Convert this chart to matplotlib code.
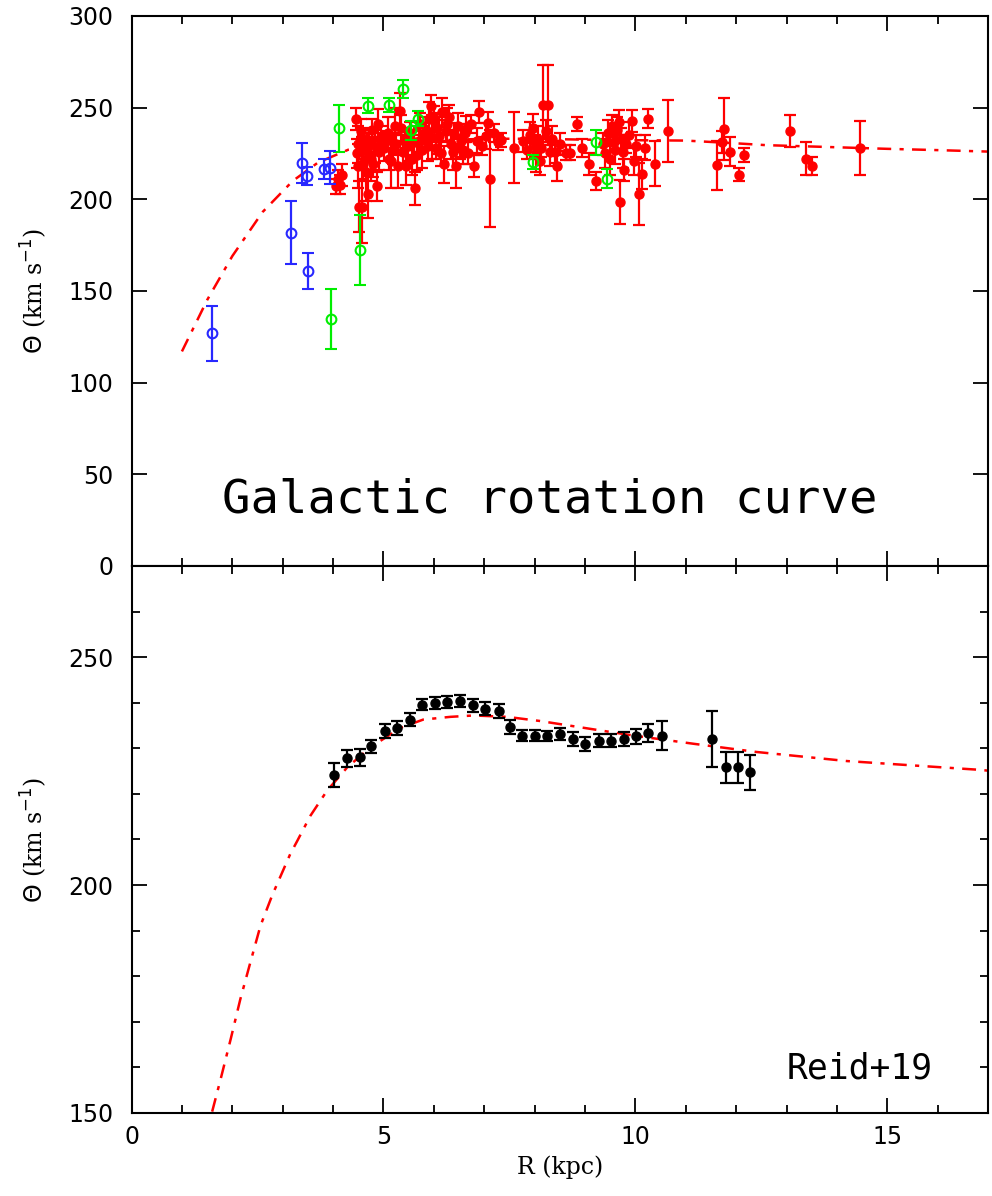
import matplotlib
matplotlib.use("Agg")
import matplotlib.pyplot as plt
from matplotlib.ticker import MultipleLocator

# ---- top panel: model curve ----
TOP_CURVE_R = [1.0, 1.5, 2.0, 2.6, 3.2, 3.7, 4.3, 5.0, 6.0, 7.0, 8.0, 9.0,
               10.0, 11.0, 12.0, 12.6, 13.7, 15.0, 16.0, 17.0]
TOP_CURVE_V = [117, 145, 169, 193, 210, 220, 227, 230, 232, 233, 233, 232.5,
               232.2, 232, 230.5, 229.5, 228.6, 227.5, 226.8, 226]

# ---- top panel: red (filled) ----
RED_R = [4.05, 4.10, 4.14, 4.18,
         4.45, 4.47, 4.49, 4.50, 4.52, 4.55, 4.57, 4.58, 4.60, 4.62, 4.65, 4.68,
         4.70, 4.72, 4.75, 4.78, 4.80, 4.83, 4.87, 4.89, 4.92, 4.95,
         5.02, 5.05, 5.09, 5.12, 5.15, 5.18, 5.22, 5.25, 5.28, 5.32, 5.35, 5.38,
         5.42, 5.45, 5.48,
         5.52, 5.56, 5.60, 5.63, 5.66, 5.70, 5.73, 5.77, 5.80, 5.84, 5.88, 5.91,
         5.94, 5.97,
         6.01, 6.04, 6.07, 6.11, 6.14, 6.17, 6.21, 6.24, 6.27, 6.31, 6.34, 6.38,
         6.41, 6.44, 6.47, 6.51, 6.54, 6.57, 6.61, 6.64, 6.67,
         6.74, 6.79, 6.85, 6.90, 6.95, 7.03, 7.07, 7.12, 7.20, 7.28, 7.33,
         7.59, 7.76, 7.85, 7.90, 7.96, 8.00, 8.03, 8.07, 8.10, 8.13, 8.16, 8.22,
         8.27, 8.30, 8.35, 8.40, 8.45, 8.50,
         8.62, 8.70, 8.84, 8.95, 9.08, 9.22,
         9.35, 9.40, 9.45, 9.50, 9.53, 9.57, 9.60, 9.63, 9.67, 9.69, 9.72, 9.75,
         9.77, 9.82, 9.88, 9.94, 9.97, 10.02, 10.08, 10.13, 10.20, 10.25, 10.39,
         10.65,
         11.63, 11.72, 11.75, 11.88, 12.05, 12.15, 13.07, 13.38, 13.50, 14.46]
RED_V = [207, 211, 208, 213,
         243.7, 225, 230, 218, 196, 237, 228, 196, 220, 233, 215, 226,
         203, 231, 222, 238, 219, 229, 207, 241, 226, 234,
         228, 232, 236, 222, 221, 227, 240, 230, 218, 248, 239, 226,
         233, 218, 229,
         236, 222, 231, 206, 224, 232, 241, 227, 235, 238, 229, 244,
         251, 234,
         243.7, 228, 239, 234.6, 225, 247.4, 219, 237, 241, 244.6, 230, 226,
         235.5, 218, 240, 228, 231.9, 227, 236, 238.3, 225.5,
         241, 218, 232, 247.7, 229, 234.6, 241.5, 211.3, 236, 231, 232.4,
         228.2, 231.9, 227, 235, 238.6, 229, 224, 233, 221, 228, 251.4, 237,
         251.4, 226, 232.8, 226, 218.2, 230,
         225.5, 225.5, 241, 228, 219.1, 210,
         230, 225, 236, 222, 240, 231, 227, 238, 241.9, 198.5, 233, 226,
         216, 230, 235, 242.8, 221, 229, 202.7, 213.7, 228.2, 244, 219.5,
         237.3,
         218.6, 231.3, 238.3, 225.9, 213.5, 224, 237.3, 222.2, 218.2, 227.9]
RED_E = [4, 5, 5, 6,
         6, 8, 10, 12, 14, 7, 6, 20, 9, 5, 16, 10,
         13, 8, 12, 6, 7, 9, 8, 8, 10, 6,
         7, 5, 9, 6, 15, 8, 10, 6, 12, 10, 7, 9,
         6, 10, 8,
         6, 9, 7, 9, 8, 7, 6, 10, 5, 7, 8, 9,
         6, 12,
         7, 6, 8, 10, 7, 8, 10, 6, 9, 7, 8, 10,
         6, 12, 7, 6, 9, 8, 5, 7, 6,
         5, 6, 7, 6, 5, 7, 6, 26.6, 5, 4, 4,
         19.6, 6, 5, 7, 8, 6, 9, 7, 8, 5, 22, 6,
         22, 8, 7, 6, 8, 6,
         4, 4, 4, 5, 6, 5,
         6, 8, 7, 9, 6, 5, 8, 7, 7, 12, 6, 9,
         6, 5, 7, 6, 8, 6, 17, 8, 7, 5, 12,
         17,
         13.4, 6, 17, 8, 3.8, 3.8, 8.7, 9, 5, 14.6]

# ---- top panel: green (open) ----
GREEN_R = [3.95, 4.11, 4.54, 4.69, 5.12, 5.39, 5.55, 5.68, 7.96, 9.22, 9.44]
GREEN_V = [134.8, 238.6, 172.3, 251, 251.4, 260, 237.5, 244, 220.4, 231, 211.3]
GREEN_E = [16.4, 12.7, 19, 4, 4, 5, 5, 4, 4, 6.6, 5.3]

# ---- top panel: blue (open) ----
BLUE_R = [1.60, 3.17, 3.39, 3.49, 3.50, 3.82, 3.94]
BLUE_V = [127, 181.8, 219.7, 212.7, 160.8, 216.4, 217.3]
BLUE_E = [15, 17, 11, 5, 10, 5.5, 9]

# ---- bottom panel: model curve ----
BOT_CURVE_R = [1.6, 1.77, 1.97, 2.16, 2.36, 2.56, 2.79, 2.96, 3.15, 3.29, 3.55,
               3.88, 4.28, 4.74, 5.34, 5.79, 6.33, 6.79, 7.45, 8.1, 8.97, 9.96,
               11.15, 12.4, 14.2, 16.8, 17.0]
BOT_CURVE_V = [150.3, 157.5, 166.3, 175, 183.1, 191.1, 197.7, 202, 206.8, 209.7,
               215.2, 220.7, 225.8, 230.2, 234.5, 236.3, 236.9, 237.2, 236.9, 236,
               234.5, 232.8, 231, 229.2, 227.2, 225.3, 225.1]

# ---- bottom panel: Reid+19 binned points ----
REID_R = [4.01, 4.28, 4.53, 4.76, 5.03, 5.27, 5.52, 5.77, 6.02, 6.26, 6.51,
          6.77, 7.02, 7.29, 7.52, 7.75, 8.00, 8.25, 8.50, 8.76, 9.00, 9.27,
          9.52, 9.77, 10.02, 10.26, 10.53, 11.53, 11.79, 12.03, 12.28]
REID_V = [224.1, 227.8, 228.0, 230.4, 233.8, 234.5, 236.3, 239.6, 240.0, 240.2,
          240.4, 239.4, 238.7, 238.2, 234.7, 232.8, 232.8, 232.7, 233.1, 232.0,
          230.9, 231.7, 231.7, 232.1, 232.6, 233.3, 232.8, 232.0, 225.8, 225.8,
          224.7]
REID_E = [2.6, 1.8, 1.8, 1.5, 1.6, 1.5, 1.5, 1.3, 1.3, 1.3, 1.3, 1.4, 1.4, 1.6,
          1.6, 1.3, 1.2, 1.2, 1.3, 1.5, 1.6, 1.5, 1.5, 1.5, 1.6, 2.0, 3.1, 6.1,
          3.4, 3.4, 3.8]

plt.rcParams["lines.scale_dashes"] = False
plt.rcParams["font.family"] = "DejaVu Sans"

fig = plt.figure(figsize=(9.92, 11.96), dpi=100)
ax1 = fig.add_axes([0.1326, 0.5268, 0.8634, 0.4599])
ax2 = fig.add_axes([0.1326, 0.0694, 0.8634, 0.4574])

dash = (0, (10, 6, 3, 6))

# top panel
ax1.plot(TOP_CURVE_R, TOP_CURVE_V, color="red", lw=1.8, linestyle=dash, zorder=1)
ax1.errorbar(RED_R, RED_V, yerr=RED_E, fmt="o", color="red", ms=6.5, elinewidth=1.6,
             capsize=4.5, capthick=1.6, zorder=2)
ax1.errorbar(GREEN_R, GREEN_V, yerr=GREEN_E, fmt="o", color="#00ee00", mfc="none",
             ms=7, mew=1.5, elinewidth=1.6, capsize=4.5, capthick=1.6, zorder=3)
ax1.errorbar(BLUE_R, BLUE_V, yerr=BLUE_E, fmt="o", color="#2828ff", mfc="none",
             ms=7, mew=1.5, elinewidth=1.6, capsize=4.5, capthick=1.6, zorder=3)
ax1.set_xlim(0, 17)
ax1.set_ylim(0, 300)
ax1.yaxis.set_major_locator(MultipleLocator(50))
ax1.set_xticklabels([])
ax1.text(0.4886, 0.12, "Galactic rotation curve", transform=ax1.transAxes,
         family="DejaVu Sans Mono", fontsize=34, ha="center", va="center")

# bottom panel
ax2.plot(BOT_CURVE_R, BOT_CURVE_V, color="red", lw=1.8, linestyle=dash, zorder=1)
ax2.errorbar(REID_R, REID_V, yerr=REID_E, fmt="o", color="black", ms=6.5,
             elinewidth=1.6, capsize=4.5, capthick=1.6, zorder=2)
ax2.set_xlim(0, 17)
ax2.set_ylim(150, 270)
ax2.yaxis.set_major_locator(MultipleLocator(50))
ax2.yaxis.set_minor_locator(MultipleLocator(10))
ax2.set_xlabel("R (kpc)", fontsize=17, family="DejaVu Serif", labelpad=4)
ax2.text(0.8505, 0.082, "Reid+19", transform=ax2.transAxes,
         family="DejaVu Sans Mono", fontsize=25, ha="center", va="center")

for ax in (ax1, ax2):
    ax.xaxis.set_major_locator(MultipleLocator(5))
    ax.xaxis.set_minor_locator(MultipleLocator(1))
    ax.tick_params(which="both", direction="in", top=True, right=True,
                   width=1.3, labelsize=17)
    ax.tick_params(axis="y", which="both", pad=13)
    ax.tick_params(axis="x", which="both", pad=9)
    ax.tick_params(which="major", length=11)
    ax.tick_params(which="minor", length=5.5)
    for s in ax.spines.values():
        s.set_linewidth(1.5)
    ax.set_ylabel(r"$\Theta$ (km s$^{-1}$)", fontsize=17, family="DejaVu Serif",
                  labelpad=14)

fig.savefig("out.png", dpi=100)
